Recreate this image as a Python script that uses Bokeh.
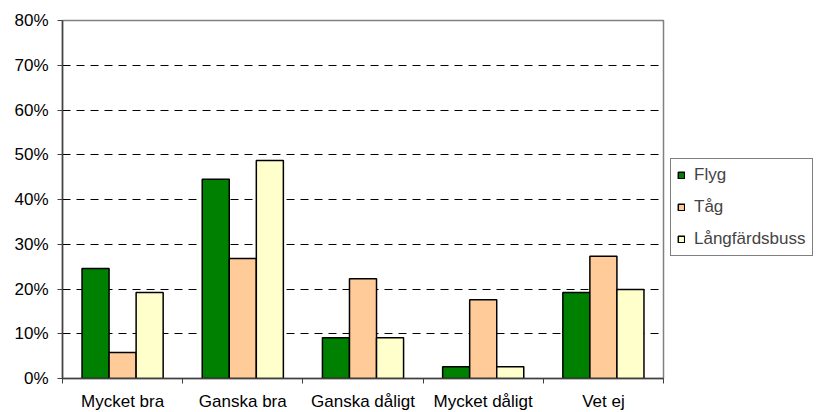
from bokeh.plotting import figure
from bokeh.models import FixedTicker, NumeralTickFormatter, Legend, LegendItem, Range1d
from bokeh.embed import file_html
from bokeh.resources import INLINE

categories = ["Mycket bra", "Ganska bra", "Ganska dåligt", "Mycket dåligt", "Vet ej"]
series = ["Flyg", "Tåg", "Långfärdsbuss"]
flyg = [0.246, 0.445, 0.091, 0.026, 0.192]
tag = [0.058, 0.268, 0.223, 0.176, 0.273]
buss = [0.192, 0.487, 0.091, 0.026, 0.199]
colors = ["#008000", "#FFCC99", "#FFFFCC"]
y_ticks = [0.0, 0.1, 0.2, 0.3, 0.4, 0.5, 0.6, 0.7, 0.8]
grid_ticks = [0.1, 0.2, 0.3, 0.4, 0.5, 0.6, 0.7]

FONT = "Liberation Sans"
AXIS = "#404040"

p = figure(frame_width=601, frame_height=358, x_range=Range1d(0, len(categories)), y_range=Range1d(0, 0.8),
           output_backend="svg", toolbar_location=None,
           min_border_left=62, min_border_right=0, min_border_top=20, min_border_bottom=34)
p.background_fill_color = "white"
p.border_fill_color = "white"
p.outline_line_color = "#808080"
p.outline_line_width = 1.5

bw = 0.225
renderers = []
for k, (name, vals, col) in enumerate(zip(series, [flyg, tag, buss], colors)):
    xs = [i + 0.5 + (k - 1) * bw for i in range(len(categories))]
    r = p.vbar(x=xs, top=vals, bottom=0, width=bw, fill_color=col, line_color="black", line_width=1.5)
    renderers.append(r)

# y axis
p.yaxis.ticker = FixedTicker(ticks=y_ticks)
p.yaxis.formatter = NumeralTickFormatter(format="0%")
p.yaxis.axis_line_color = AXIS
p.yaxis.axis_line_width = 1.5
p.yaxis.major_tick_line_color = AXIS
p.yaxis.major_tick_out = 5
p.yaxis.major_tick_in = 0
p.yaxis.minor_tick_line_color = None
p.yaxis.major_label_text_font = FONT
p.yaxis.major_label_text_font_size = "17px"
p.yaxis.major_label_text_color = "black"
p.yaxis.major_label_standoff = 9

# x axis
p.xaxis.ticker = FixedTicker(ticks=[i + 0.5 for i in range(len(categories))],
                             minor_ticks=list(range(len(categories) + 1)))
p.xaxis.major_label_overrides = {i + 0.5: c for i, c in enumerate(categories)}
p.xaxis.axis_line_color = AXIS
p.xaxis.axis_line_width = 1.5
p.xaxis.major_tick_line_color = None
p.xaxis.minor_tick_line_color = AXIS
p.xaxis.minor_tick_out = 5
p.xaxis.minor_tick_in = 0
p.xaxis.major_label_text_font = FONT
p.xaxis.major_label_text_font_size = "17px"
p.xaxis.major_label_text_color = "black"
p.xaxis.major_label_standoff = 7

p.xgrid.grid_line_color = None
p.ygrid.ticker = FixedTicker(ticks=grid_ticks)
p.ygrid.grid_line_color = "black"
p.ygrid.grid_line_dash = "8 6"
p.ygrid.grid_line_width = 1

legend = Legend(items=[LegendItem(label=s, renderers=[r]) for s, r in zip(series, renderers)],
                location=(7, 122))
legend.border_line_color = "black"
legend.border_line_width = 1
legend.background_fill_color = "white"
legend.background_fill_alpha = 1
legend.label_text_font = FONT
legend.label_text_font_size = "17px"
legend.glyph_width = 8
legend.glyph_height = 8
legend.label_height = 20
legend.spacing = 12
legend.padding = 6
legend.margin = 7
legend.label_standoff = 9
p.add_layout(legend, "right")

open("out.html", "w").write(file_html(p, INLINE))
